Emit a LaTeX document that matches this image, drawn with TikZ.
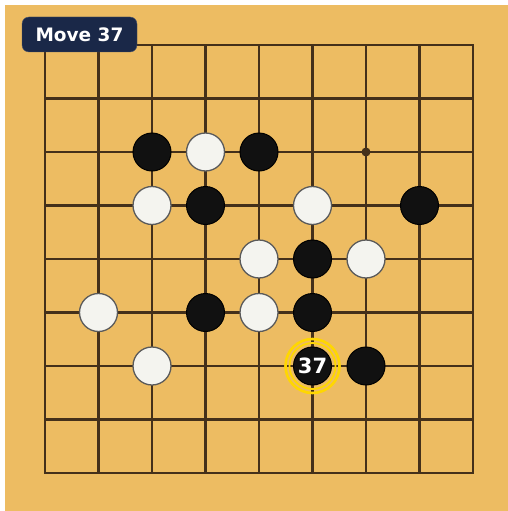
\documentclass[tikz,border=0pt]{standalone}
\usepackage{fontspec}
\setsansfont{DejaVu Sans}
\usetikzlibrary{positioning}
\definecolor{boardTan}   {RGB}{237, 188,  98}
\definecolor{gridBrown}  {RGB}{ 68,  48,  26}
\definecolor{stoneBlack} {RGB}{ 17,  17,  17}
\definecolor{stoneWhite} {RGB}{244, 244, 239}
\definecolor{rimGray}    {RGB}{ 90,  90,  90}
\definecolor{tagNavy}    {RGB}{ 26,  40,  72}
\definecolor{markGold}   {RGB}{255, 215,   0}

\tikzset{
  blackstone/.style={circle,draw=black,fill=stoneBlack,line width=1pt,
                     minimum size=38pt,inner sep=0pt},
  whitestone/.style={circle,draw=rimGray,fill=stoneWhite,line width=1.3pt,
                     minimum size=38pt,inner sep=0pt},
}

\begin{document}
\begin{tikzpicture}[x=1pt,y=-1pt]

    \useasboundingbox (0,0) rectangle (508,511);
    \fill[boardTan] (5,5) rectangle (508,511);

    % ── grade 9x9 ─────────────────────────────────────────
    \foreach \i in {0,...,8}{
      \pgfmathsetmacro{\pos}{45 + \i*53.5}
      \draw[gridBrown,line width=2.2pt] (\pos,45) -- (\pos,473);
      \draw[gridBrown,line width=2.2pt] (45,\pos) -- (473,\pos);
    }
    \draw[gridBrown,line width=2.2pt] (45,45) rectangle (473,473);

    % hoshi
    \foreach \c/\r in {2/2,6/2,4/4,2/6,6/6}{
      \fill[gridBrown] (45+\c*53.5,45+\r*53.5) circle (4.5pt);
    }

    % ── pedras ────────────────────────────────────────────
    \foreach \c/\r/\n in {2/2/b1,4/2/b2,3/3/b3,7/3/b4,5/4/b5,3/5/b6,5/5/b7,6/6/b8}{
      \node[blackstone] (\n) at (45+\c*53.5,45+\r*53.5){};
    }
    \foreach \c/\r/\n in {3/2/w1,2/3/w2,5/3/w3,4/4/w4,6/4/w5,1/5/w6,4/5/w7,2/6/w8}{
      \node[whitestone] (\n) at (45+\c*53.5,45+\r*53.5){};
    }

    % ultima jogada
    \draw[markGold,line width=2.6pt] (312.5,366) circle (27pt);
    \draw[markGold,line width=1.8pt] (312.5,366) circle (23pt);
    \node[blackstone,text=white,font=\sffamily\bfseries\fontsize{21}{22}\selectfont]
          (last) at (312.5,366){37};

    % ── rotulo ────────────────────────────────────────────
    \node[fill=tagNavy,draw=tagNavy!80,rounded corners=7pt,
          minimum width=115pt,minimum height=35pt,inner sep=0pt,
          text=white,font=\sffamily\bfseries\fontsize{18.5}{20}\selectfont]
          (tag) at (79.5,34.5){Move 37};

\end{tikzpicture}
\end{document}
